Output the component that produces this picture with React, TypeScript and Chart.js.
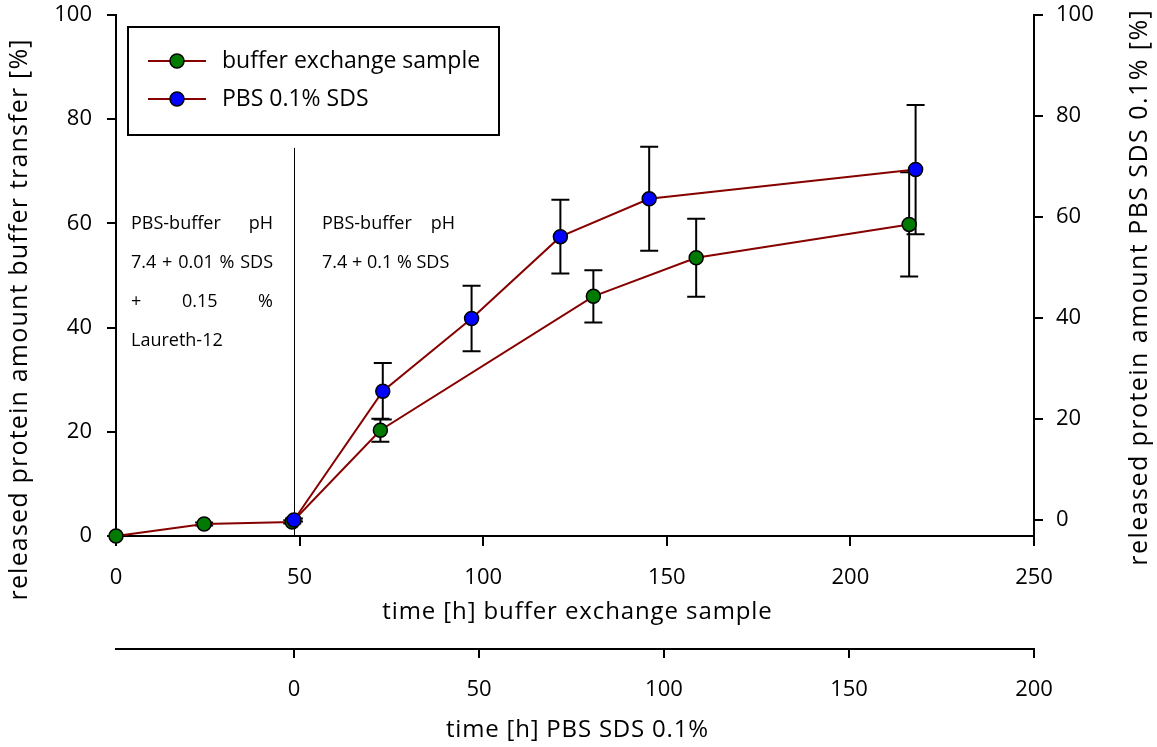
import React, { useEffect, useRef } from "react";
import { Chart, registerables } from "chart.js";

Chart.register(...registerables);

// ---- data ----
const bufferTime = [0, 24, 48, 72, 130, 158, 216];
const bufferRelease = [0, 2.3, 2.7, 20.3, 46.0, 53.4, 59.8];
const bufferError = [0, 0.3, 0.3, 2.2, 5.0, 7.5, 10.0];

const pbsTime = [0, 24, 48, 72, 96, 168];
const pbsRelease = [0, 25.5, 39.9, 56.1, 63.6, 69.4];
const pbsError = [0.3, 5.6, 6.5, 7.3, 10.3, 12.8];

const xTickValues = [0, 50, 100, 150, 200, 250];
const x2TickValues = [0, 50, 100, 150, 200];
const yTickValues = [0, 20, 40, 60, 80, 100];
const y2TickValues = [0, 20, 40, 60, 80, 100];

const seriesLabels = ["buffer exchange sample", "PBS 0.1% SDS"];
const xTitle = "time [h] buffer exchange sample";
const x2Title = "time [h] PBS SDS 0.1%";
const yTitle = "released protein amount buffer transfer [%]";
const y2Title = "released protein amount PBS SDS 0.1% [%]";

const leftNote = ["PBS-buffer pH", "7.4 + 0.01 % SDS", "+ 0.15 %", "Laureth-12"];
const rightNote = ["PBS-buffer pH", "7.4 + 0.1 % SDS"];
const dividerTop = 74.5; // left-axis value where the divider line ends

const FONT = "'Open Sans', Lato, sans-serif";
const LINE_COLOR = "#860000";
const errorSets = [bufferError, pbsError];

function drawJustified(ctx: CanvasRenderingContext2D, lines: string[], x1: number, x2: number, y0: number, step: number) {
  lines.forEach((text, i) => {
    const y = y0 + i * step;
    const words = text.split(/\s+/);
    const last = i === lines.length - 1;
    ctx.textAlign = "left";
    if (last || words.length < 2) {
      ctx.fillText(text, x1, y);
      return;
    }
    const total = words.reduce((a, w) => a + ctx.measureText(w).width, 0);
    const gap = (x2 - x1 - total) / (words.length - 1);
    let x = x1;
    for (const w of words) {
      ctx.fillText(w, x, y);
      x += ctx.measureText(w).width + gap;
    }
  });
}

function drawTitle(ctx: any, text: string, x: number, y: number, rotate: boolean, size: number, spacing: number) {
  ctx.save();
  ctx.translate(x, y);
  if (rotate) ctx.rotate(-Math.PI / 2);
  ctx.font = `${size}px ${FONT}`;
  ctx.letterSpacing = `${spacing}px`;
  ctx.fillStyle = "#000";
  ctx.textAlign = "center";
  ctx.textBaseline = "middle";
  ctx.fillText(text, spacing / 2, 0);
  ctx.restore();
}

const overlayPlugin = {
  id: "overlay",
  beforeDatasetsDraw(chart: any) {
    const ctx = chart.ctx;
    const xs2 = chart.scales.x2;
    const ys = chart.scales.y;
    const dx = Math.round(xs2.getPixelForValue(0)) + 0.5;
    ctx.save();
    ctx.strokeStyle = "#000";
    ctx.lineWidth = 1;
    ctx.beginPath();
    ctx.moveTo(dx, ys.getPixelForValue(0));
    ctx.lineTo(dx, ys.getPixelForValue(dividerTop));
    ctx.stroke();
    ctx.restore();

    chart.data.datasets.forEach((ds: any, i: number) => {
      const meta = chart.getDatasetMeta(i);
      const xs = chart.scales[meta.xAxisID];
      const yScale = chart.scales[meta.yAxisID];
      const errs = errorSets[i];
      ds.data.forEach((p: any, j: number) => {
        const e = errs[j];
        if (!e) return;
        const x = xs.getPixelForValue(p.x);
        const y1 = yScale.getPixelForValue(p.y + e);
        const y2 = yScale.getPixelForValue(p.y - e);
        ctx.save();
        ctx.strokeStyle = "#000";
        ctx.lineWidth = 2;
        ctx.beginPath();
        ctx.moveTo(x, y1);
        ctx.lineTo(x, y2);
        ctx.moveTo(x - 9, y1);
        ctx.lineTo(x + 9, y1);
        ctx.moveTo(x - 9, y2);
        ctx.lineTo(x + 9, y2);
        ctx.stroke();
        ctx.restore();
      });
    });
  },
  afterDraw(chart: any) {
    const ctx = chart.ctx;
    const area = chart.chartArea;
    ctx.save();
    // axis titles
    const cx = (area.left + area.right) / 2;
    drawTitle(ctx, xTitle, cx + 2, 612, false, 24, 0.9);
    drawTitle(ctx, x2Title, cx + 2, 730, false, 24, 0.8);
    drawTitle(ctx, yTitle, 20, 320, true, 25, 1.2);
    drawTitle(ctx, y2Title, 1140, 288, true, 25, 1.45);

    // notes
    ctx.fillStyle = "#000";
    ctx.font = `18px ${FONT}`;
    ctx.textBaseline = "middle";
    drawJustified(ctx, leftNote, 131, 273, 224, 39);
    drawJustified(ctx, rightNote, 322, 455, 224, 39);

    // legend
    ctx.strokeStyle = "#000";
    ctx.lineWidth = 2;
    ctx.strokeRect(128, 27, 371, 108);
    const ds = chart.data.datasets;
    [61, 99].forEach((y, i) => {
      const d = ds[i];
      ctx.strokeStyle = d.borderColor;
      ctx.lineWidth = 2;
      ctx.beginPath();
      ctx.moveTo(148, y);
      ctx.lineTo(206, y);
      ctx.stroke();
      ctx.beginPath();
      ctx.arc(177, y, 7, 0, Math.PI * 2);
      ctx.fillStyle = d.pointBackgroundColor;
      ctx.fill();
      ctx.strokeStyle = "#000";
      ctx.lineWidth = 1.5;
      ctx.stroke();
      ctx.fillStyle = "#000";
      ctx.font = `23px ${FONT}`;
      ctx.textAlign = "left";
      ctx.textBaseline = "middle";
      ctx.fillText(d.label, 222, y);
    });
    ctx.restore();
  },
};

const tickFont = { family: FONT, size: 22 };

function fixedTicks(values: number[]) {
  return (s: any) => {
    s.ticks = values.map((v) => ({ value: v }));
  };
}

export default function App() {
  const ref = useRef<HTMLCanvasElement | null>(null);
  useEffect(() => {
    document.body.style.margin = "0";
    if (!ref.current) return;
    const axisGrid = (len: number) => ({ drawOnChartArea: false, color: "#000", lineWidth: 2, tickLength: len });
    const axisBorder = { color: "#000", width: 2 };
    const chart = new Chart(ref.current, {
      type: "line",
      data: {
        datasets: [
          {
            label: seriesLabels[0],
            data: bufferTime.map((t, i) => ({ x: t, y: bufferRelease[i] })),
            xAxisID: "x",
            yAxisID: "y",
            borderColor: LINE_COLOR,
            borderWidth: 2,
            pointBackgroundColor: "#007a00",
            pointBorderColor: "#000",
            pointBorderWidth: 1.5,
            pointRadius: 7,
            tension: 0,
            clip: false,
            order: 1,
          } as any,
          {
            label: seriesLabels[1],
            data: pbsTime.map((t, i) => ({ x: t, y: pbsRelease[i] })),
            xAxisID: "x2",
            yAxisID: "y2",
            borderColor: LINE_COLOR,
            borderWidth: 2,
            pointBackgroundColor: "#0000ff",
            pointBorderColor: "#000",
            pointBorderWidth: 1.5,
            pointRadius: 7,
            tension: 0,
            clip: false,
            order: 0,
          } as any,
        ],
      },
      options: {
        animation: false,
        responsive: false,
        maintainAspectRatio: false,
        layout: { padding: { top: 15, left: 0, right: 0, bottom: 0 } },
        plugins: { legend: { display: false }, tooltip: { enabled: false } },
        scales: {
          x: {
            type: "linear",
            position: "bottom",
            min: 0,
            max: 250,
            afterBuildTicks: fixedTicks(xTickValues),
            ticks: { color: "#000", font: tickFont, padding: 19, maxRotation: 0, autoSkip: false },
            grid: axisGrid(10),
            border: axisBorder,
            afterFit: (s: any) => { s.height = 113; s.paddingLeft = 0; s.paddingRight = 0; },
          },
          x2: {
            type: "linear",
            position: "bottom",
            min: -48.1,
            max: 200,
            afterBuildTicks: fixedTicks(x2TickValues),
            ticks: { color: "#000", font: tickFont, padding: 19, maxRotation: 0, autoSkip: false },
            grid: axisGrid(9),
            border: axisBorder,
            afterFit: (s: any) => { s.height = 98; s.paddingLeft = 0; s.paddingRight = 0; },
          },
          y: {
            type: "linear",
            position: "left",
            min: 0,
            max: 100,
            afterBuildTicks: fixedTicks(yTickValues),
            ticks: { color: "#000", font: tickFont, padding: 15, autoSkip: false },
            grid: axisGrid(9),
            border: axisBorder,
            afterFit: (s: any) => { s.width = 116; s.paddingTop = 0; s.paddingBottom = 0; },
          },
          y2: {
            type: "linear",
            position: "right",
            min: -3.17,
            max: 100,
            afterBuildTicks: fixedTicks(y2TickValues),
            ticks: { color: "#000", font: tickFont, padding: 13, autoSkip: false },
            grid: axisGrid(9),
            border: axisBorder,
            afterFit: (s: any) => { s.width = 123; s.paddingTop = 0; s.paddingBottom = 0; },
          },
        },
      } as any,
      plugins: [overlayPlugin],
    });
    return () => chart.destroy();
  }, []);
  return (
    <div style={{ position: "absolute", left: 0, top: 0, width: 1157, height: 747, background: "#fff" }}>
      <canvas ref={ref} width={1157} height={747} style={{ display: "block" }} />
    </div>
  );
}
